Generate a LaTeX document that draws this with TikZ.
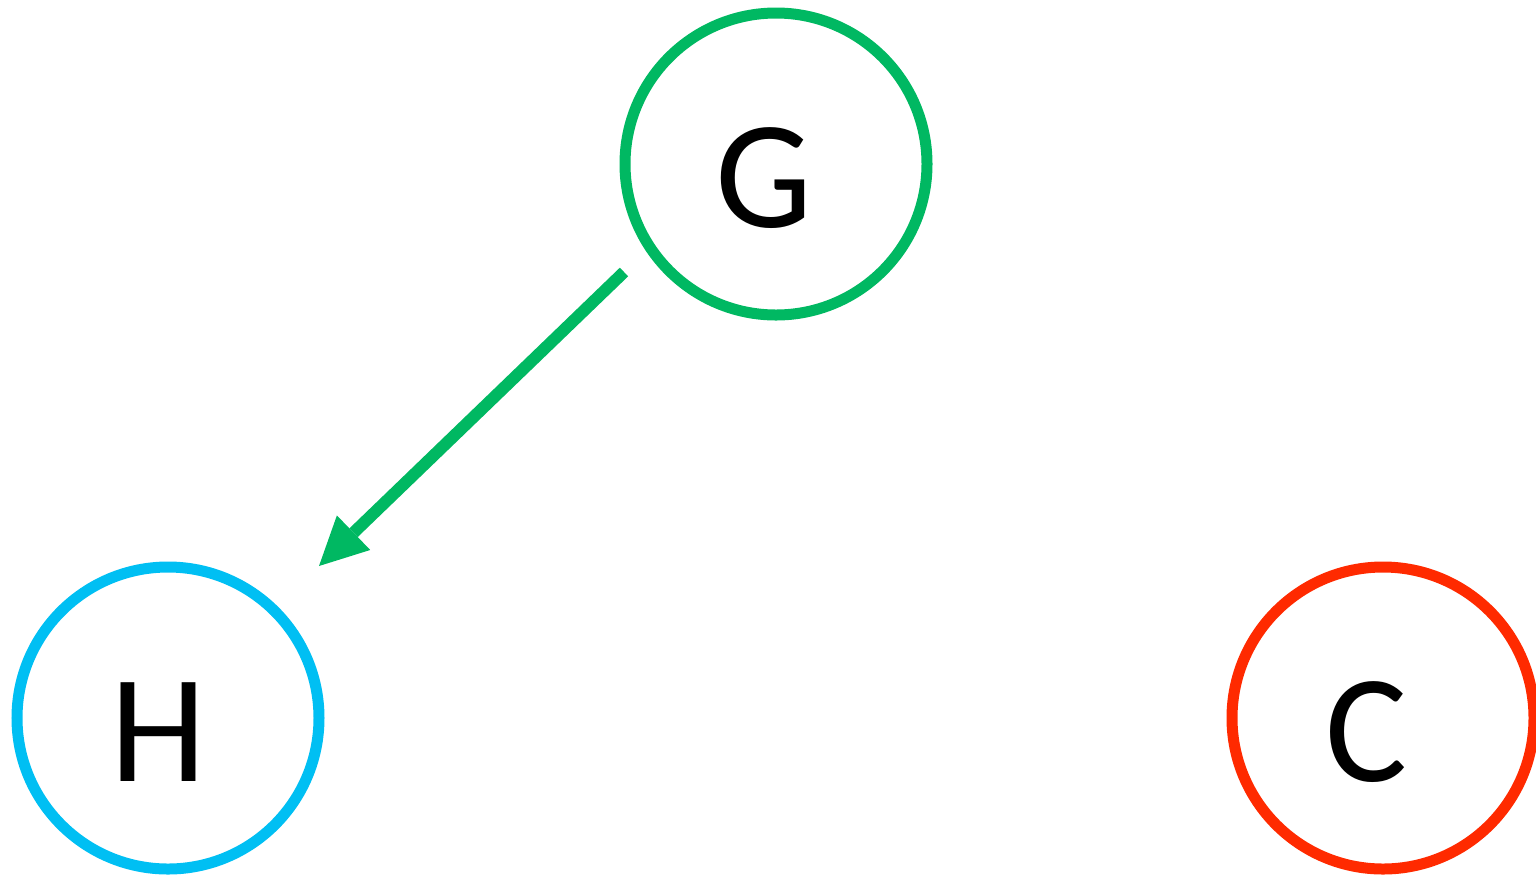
\documentclass[tikz,border=0pt]{standalone}
\usepackage{fontspec}
\setmainfont{Carlito}
\usetikzlibrary{arrows.meta}
\definecolor{cgreen}{HTML}{00B862}
\definecolor{cblue}{HTML}{00BFF3}
\definecolor{cred}{HTML}{FF2A00}
\begin{document}
\begin{tikzpicture}[x=0.5pt,y=-0.5pt,
  ball/.style={circle,line width=5.5pt,minimum size=151pt,inner sep=0pt,fill=white},
  txt/.style={font=\fontsize{77}{90}\selectfont,xshift=-6pt,yshift=-7pt},
  link/.style={draw=cgreen,line width=6pt,
    -{Triangle[length=24pt,width=24pt,line width=0pt]}}]
\useasboundingbox (0,0) rectangle (1536,875);
\node[ball,draw=cgreen,label={[txt]center:G}] (G) at (776,164) {};
\node[ball,draw=cblue,label={[txt,xshift=1pt]center:H}] (H) at (168,718) {};
\node[ball,draw=cred,label={[txt,xshift=-2pt]center:C}] (C) at (1383,718) {};
\coordinate (s) at (624,272);
\coordinate (e) at (319,566);
\draw[link] (s) -- (e);
\end{tikzpicture}
\end{document}
